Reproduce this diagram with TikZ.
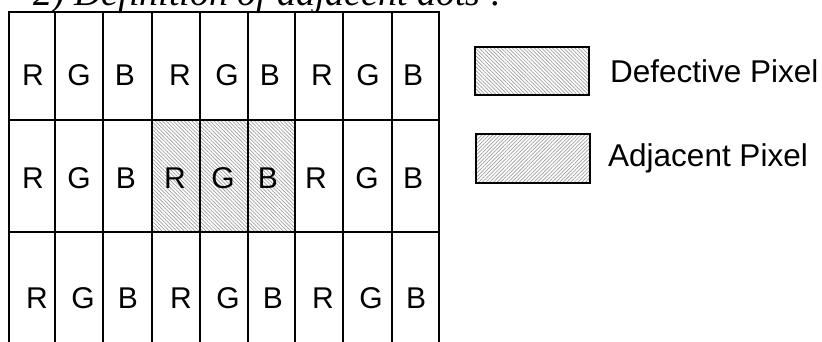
\documentclass[tikz,border=0pt]{standalone}
\usepackage{fontspec}
\setmainfont{Liberation Serif}
\newfontfamily\arialf{Liberation Sans}
\usetikzlibrary{patterns.meta}
\begin{document}
\begin{tikzpicture}[x=1pt,y=-1pt,
  gridline/.style={line width=2.4pt, line cap=rect},
  cellletter/.style={font=\arialf\fontsize{30}{30}\selectfont, anchor=base, inner sep=0pt},
  legendtext/.style={font=\arialf\fontsize{31.5}{31.5}\selectfont, anchor=base west, inner sep=0pt},
  titletext/.style={font=\fontsize{38}{38}\selectfont\itshape, anchor=base west, inner sep=0pt},
  legendbox/.style={line width=2.4pt},
  defhatch/.style={pattern={Lines[angle=-45,distance=2.6pt,line width=0.7pt]}, pattern color=black!38},
  adjhatch/.style={pattern={Lines[angle=45,distance=2.6pt,line width=0.7pt]}, pattern color=black!38},
]
\useasboundingbox (0,0) rectangle (822,341);
% title (cut off at the top)
\node[titletext] (title) at (33,5) {2) Definition of adjacent dots :};
% hatched cells
\fill[defhatch] (152,120) rectangle (295,232);
% grid
\foreach \x in {9,55,103,152,200,248,295,343,392,439}
  \draw[gridline] (\x,12) -- (\x,341);
\foreach \y in {12,120,232}
  \draw[gridline] (9,\y) -- (439,\y);
% letters
\foreach \x [count=\i] in {33,79,125,180,227,270,322,368,413}{
  \pgfmathsetmacro{\lt}{{"R","G","B"}[mod(\i-1,3)]}
  \node[cellletter] (ra\i) at (\x,85) {\lt};
}
\foreach \x [count=\i] in {33,79,126,175,223,268,316,367,413}{
  \pgfmathsetmacro{\lt}{{"R","G","B"}[mod(\i-1,3)]}
  \node[cellletter] (rb\i) at (\x,188) {\lt};
}
\foreach \x [count=\i] in {37,83,128,181,228,273,323,371,416}{
  \pgfmathsetmacro{\lt}{{"R","G","B"}[mod(\i-1,3)]}
  \node[cellletter] (rc\i) at (\x,308) {\lt};
}
% legend
\draw[legendbox, defhatch] (475,47) rectangle (589,95);
\node[legendtext] (deftext) at (610,82) {Defective Pixel};
\draw[legendbox, adjhatch] (476,134) rectangle (590,183);
\node[legendtext] (adjtext) at (608,166) {Adjacent Pixel};
\end{tikzpicture}
\end{document}
